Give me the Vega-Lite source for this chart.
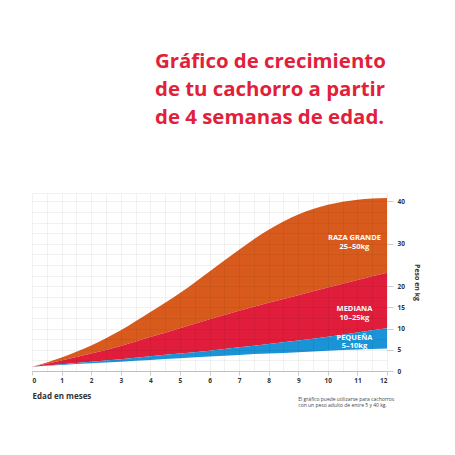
{
  "$schema": "https://vega.github.io/schema/vega-lite/v6.json",
  "width": 355,
  "height": 178,
  "autosize": "none",
  "padding": {"left": 32, "top": 193, "right": 68, "bottom": 84},
  "background": "white",
  "config": {"view": {"stroke": null}},
  "title": {
    "text": ["Gráfico de crecimiento", "de tu cachorro a partir", "de 4 semanas de edad."],
    "anchor": "start",
    "frame": "group",
    "dx": 123,
    "offset": 65,
    "font": "Open Sans",
    "fontSize": 20.4,
    "fontWeight": "bold",
    "color": "#e2203a",
    "lineHeight": 28
  },
  "datasets": {
    "growth": [
      {"month": 0, "small_min": 1.0, "small_max": 1.0, "medium_max": 1.0, "large_max": 1.0},
      {"month": 1, "small_min": 1.4, "small_max": 1.6, "medium_max": 2.5, "large_max": 3.2},
      {"month": 2, "small_min": 1.8, "small_max": 2.2, "medium_max": 4.1, "large_max": 6.0},
      {"month": 3, "small_min": 2.2, "small_max": 2.8, "medium_max": 5.9, "large_max": 9.6},
      {"month": 4, "small_min": 2.6, "small_max": 3.5, "medium_max": 8.0, "large_max": 13.9},
      {"month": 5, "small_min": 3.0, "small_max": 4.1, "medium_max": 10.1, "large_max": 18.4},
      {"month": 6, "small_min": 3.4, "small_max": 4.8, "medium_max": 12.2, "large_max": 23.5},
      {"month": 7, "small_min": 3.8, "small_max": 5.6, "medium_max": 14.2, "large_max": 28.6},
      {"month": 8, "small_min": 4.1, "small_max": 6.4, "medium_max": 16.1, "large_max": 33.3},
      {"month": 9, "small_min": 4.4, "small_max": 7.2, "medium_max": 17.9, "large_max": 36.9},
      {"month": 10, "small_min": 4.8, "small_max": 8.1, "medium_max": 19.7, "large_max": 39.2},
      {"month": 11, "small_min": 5.1, "small_max": 9.1, "medium_max": 21.5, "large_max": 40.4},
      {"month": 12, "small_min": 5.3, "small_max": 10.1, "medium_max": 23.2, "large_max": 40.8}
    ],
    "labels": [
      {"month": 10.9, "kg": 31.3, "text": "RAZA GRANDE\n25–50kg"},
      {"month": 10.9, "kg": 14.6, "text": "MEDIANA\n10–25kg"},
      {"month": 10.9, "kg": 7.8, "text": "PEQUEÑA\n5–10kg"}
    ],
    "note": [
      {"month": 9.0, "kg": -6.6, "text": "El gráfico puede utilizarse para cachorros\ncon un peso adulto de entre 5 y 40 kg."}
    ]
  },
  "resolve": {"axis": {"x": "independent", "y": "independent"}},
  "layer": [
    {
      "data": {"name": "growth"},
      "mark": {"type": "area", "interpolate": "monotone", "color": "#d85b1d"},
      "encoding": {
        "x": {
          "field": "month", "type": "quantitative",
          "scale": {"domain": [0, 12], "nice": false},
          "axis": {
            "values": [0,1,2,3,4,5,6,7,8,9,10,11,12], "format": "d", "grid": false,
            "labelFont": "Open Sans", "labelFontSize": 6.5, "labelFontWeight": "bold", "labelColor": "#333",
            "tickSize": 4, "tickColor": "#ccc", "domainColor": "#ccc", "labelPadding": 2,
            "title": "Edad en meses", "titleAnchor": "start", "titleAlign": "left",
            "titleFont": "Open Sans", "titleFontSize": 8, "titleFontWeight": "bold", "titleColor": "#333",
            "titlePadding": 9
          }
        },
        "y": {
          "field": "medium_max", "type": "quantitative",
          "scale": {"domain": [0, 42], "nice": false},
          "axis": {
            "orient": "right", "values": [0,5,10,15,20,30,40], "grid": false, "domain": false,
            "labelFont": "Open Sans", "labelFontSize": 6.5, "labelFontWeight": "bold", "labelColor": "#333",
            "tickSize": 6, "tickColor": "#ccc", "labelPadding": 4,
            "title": "Peso en kg", "titleAngle": 90, "titleFont": "Open Sans", "titleFontSize": 7,
            "titleFontWeight": "bold", "titleColor": "#333", "titlePadding": 9
          }
        },
        "y2": {"field": "large_max"}
      }
    },
    {
      "data": {"name": "growth"},
      "mark": {"type": "area", "interpolate": "monotone", "color": "#e01e3c"},
      "encoding": {
        "x": {"field": "month", "type": "quantitative", "axis": null},
        "y": {"field": "small_max", "type": "quantitative", "axis": null},
        "y2": {"field": "medium_max"}
      }
    },
    {
      "data": {"name": "growth"},
      "mark": {"type": "area", "interpolate": "monotone", "color": "#1a94d6"},
      "encoding": {
        "x": {"field": "month", "type": "quantitative", "axis": null},
        "y": {"field": "small_min", "type": "quantitative", "axis": null},
        "y2": {"field": "small_max"}
      }
    },
    {
      "data": {"name": "labels"},
      "mark": {"type": "text", "font": "Open Sans", "fontSize": 7.5, "fontWeight": "bold", "color": "white", "align": "center", "baseline": "middle", "lineBreak": "\n", "lineHeight": 8.5},
      "encoding": {
        "x": {
          "field": "month", "type": "quantitative",
          "axis": {
            "orient": "top", "values": [0,0.5,1,1.5,2,2.5,3,3.5,4,4.5,5,5.5,6,6.5,7,7.5,8,8.5,9,9.5,10,10.5,11,11.5,12],
            "labels": false, "ticks": false, "domain": false, "title": null,
            "grid": true, "gridColor": "#000", "gridOpacity": 0.09, "gridWidth": 0.6, "zindex": 1
          }
        },
        "y": {
          "field": "kg", "type": "quantitative",
          "axis": {
            "orient": "left", "values": [0,2.5,5,7.5,10,12.5,15,17.5,20,22.5,25,27.5,30,32.5,35,37.5,40,42],
            "labels": false, "ticks": false, "domain": false, "title": null,
            "grid": true, "gridColor": "#000", "gridOpacity": 0.09, "gridWidth": 0.6, "zindex": 1
          }
        },
        "text": {"field": "text"}
      }
    },
    {
      "data": {"name": "note"},
      "mark": {"type": "text", "font": "Open Sans", "fontSize": 5, "color": "#444", "align": "left", "baseline": "middle", "lineBreak": "\n", "lineHeight": 6.5, "clip": false},
      "encoding": {
        "x": {"field": "month", "type": "quantitative", "axis": null},
        "y": {"field": "kg", "type": "quantitative", "axis": null},
        "text": {"field": "text"}
      }
    }
  ]
}
